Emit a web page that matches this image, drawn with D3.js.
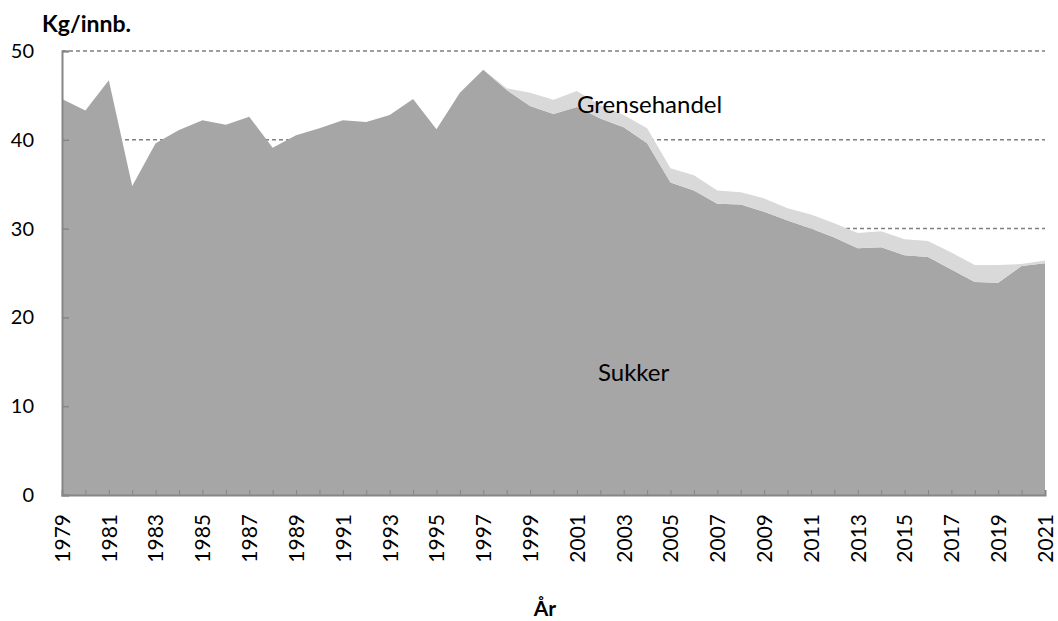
<!DOCTYPE html>
<html lang="no">
<head>
<meta charset="UTF-8">
<title>Sukker</title>
<script src="https://cdn.jsdelivr.net/npm/d3@7/dist/d3.min.js"></script>
<style>
	body { margin: 0; background: #fff; }
	text { font-family: Lato, "Open Sans", sans-serif; fill: #000; }
</style>
</head>
<body>
<script>
// data
const years = d3.range(1979, 2022);
const sukker = [44.6, 43.3, 46.7, 34.8, 39.6, 41.1, 42.2, 41.7, 42.6, 39.1,
	40.5, 41.3, 42.2, 42.0, 42.8, 44.6, 41.2, 45.3, 47.9, 45.6,
	43.8, 42.9, 43.7, 42.4, 41.4, 39.6, 35.2, 34.3, 32.8, 32.7,
	31.9, 30.9, 30.0, 29.0, 27.8, 27.9, 27.0, 26.8, 25.4, 24.0,
	23.9, 25.8, 26.1];
const grensehandel = [0, 0, 0, 0, 0, 0, 0, 0, 0, 0,
	0, 0, 0, 0, 0, 0, 0, 0, 0, 0.2,
	1.5, 1.6, 1.8, 1.5, 1.4, 1.7, 1.6, 1.7, 1.5, 1.4,
	1.5, 1.4, 1.6, 1.6, 1.7, 1.8, 1.8, 1.8, 1.9, 1.9,
	2.0, 0.2, 0.3];
const yTicks = [0, 10, 20, 30, 40, 50];

const width = 1058, height = 621;
const svg = d3.select('body').append('svg')
	.attr('width', width)
	.attr('height', height);

const x = d3.scaleLinear().domain([1979, 2021]).range([62, 1045]);
const y = d3.scaleLinear().domain([0, 50]).range([495, 51]);

const table = years.map((yr, i) => ({ year: yr, sukker: sukker[i], grensehandel: grensehandel[i] }));
const series = d3.stack().keys(['sukker', 'grensehandel'])(table);
const colors = { sukker: '#a6a6a6', grensehandel: '#d9d9d9' };

// gridlines
svg.append('g')
	.selectAll('line')
	.data(yTicks.filter(d => d > 0))
	.enter()
	.append('line')
	.attr('x1', x(1979))
	.attr('x2', x(2021))
	.attr('y1', d => y(d))
	.attr('y2', d => y(d))
	.attr('stroke', '#7f7f7f')
	.attr('stroke-width', 1.5)
	.attr('stroke-dasharray', '4,3');

const area = d3.area()
	.x(d => x(d.data.year))
	.y0(d => y(d[0]))
	.y1(d => y(d[1]));

svg.append('g')
	.selectAll('path')
	.data(series)
	.enter()
	.append('path')
	.attr('fill', d => colors[d.key])
	.attr('d', area);

// y axis
const gy = svg.append('g')
	.attr('transform', `translate(${x(1979)},0)`)
	.call(d3.axisLeft(y).tickValues(yTicks).tickSize(-7).tickPadding(28));
gy.select('.domain').attr('stroke', '#868686').attr('stroke-width', 2);
gy.selectAll('.tick line').attr('stroke', '#868686').attr('stroke-width', 1.5);
gy.selectAll('.tick text').attr('font-size', 20).attr('font-family', 'Lato, sans-serif');

// x axis
const gx = svg.append('g')
	.attr('transform', `translate(0,${y(0)})`)
	.call(d3.axisBottom(x).tickValues(years).tickSize(-5)
		.tickFormat(d => (d - 1979) % 2 === 0 ? d : ''));
gx.select('.domain').attr('stroke', '#868686').attr('stroke-width', 2);
gx.selectAll('.tick line').attr('stroke', '#868686').attr('stroke-width', 1);
gx.selectAll('.tick text')
	.attr('font-size', 21)
	.attr('font-family', '"DejaVu Sans", sans-serif')
	.attr('transform', 'rotate(-90)')
	.attr('text-anchor', 'end')
	.attr('x', -19)
	.attr('y', 0)
	.attr('dy', '0.35em');

// labels
svg.append('text')
	.attr('x', 42)
	.attr('y', 32)
	.attr('font-size', 23)
	.attr('font-weight', 'bold')
	.text('Kg/innb.');

svg.append('text')
	.attr('x', 545)
	.attr('y', 616)
	.attr('text-anchor', 'middle')
	.attr('font-size', 21)
	.attr('font-weight', 'bold')
	.text('År');

svg.append('text')
	.attr('x', 577)
	.attr('y', 113)
	.attr('font-size', 24)
	.text('Grensehandel');

svg.append('text')
	.attr('x', 598)
	.attr('y', 381)
	.attr('font-size', 24)
	.text('Sukker');
</script>
</body>
</html>
